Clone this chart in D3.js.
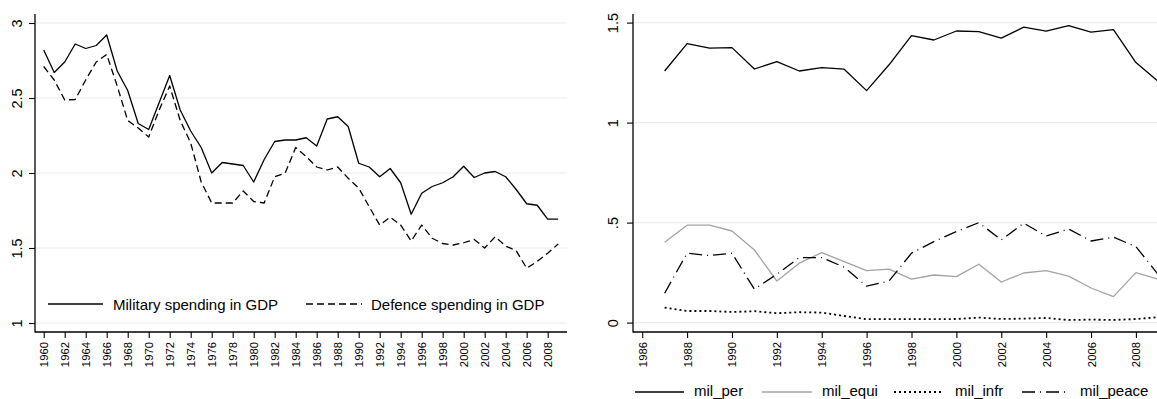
<!DOCTYPE html>
<html>
<head>
<meta charset="utf-8">
<script src="https://cdn.jsdelivr.net/npm/d3@7"></script>
<style>
  html, body { margin: 0; padding: 0; background: #fff; }
  svg { display: block; font-family: "Liberation Sans", Arial, Helvetica, sans-serif; }
</style>
</head>
<body>
<svg id="chart" width="1157" height="399"></svg>
<script>
// ---- Data: left panel (share of GDP, %) ----
const yearsA = d3.range(1960, 2010);
const militaryGDP = [
  2.82, 2.67, 2.74, 2.86, 2.83, 2.85, 2.92, 2.68, 2.55, 2.33,
  2.29, 2.47, 2.65, 2.42, 2.28, 2.17, 2.00, 2.07, 2.06, 2.05,
  1.94, 2.09, 2.21, 2.22, 2.22, 2.235, 2.18, 2.36, 2.375, 2.31,
  2.065, 2.04, 1.975, 2.03, 1.935, 1.725, 1.865, 1.91, 1.935, 1.975,
  2.045, 1.97, 2.00, 2.01, 1.975, 1.89, 1.795, 1.785, 1.693, 1.693
];
const defenceGDP = [
  2.71, 2.62, 2.487, 2.49, 2.62, 2.74, 2.79, 2.58, 2.35, 2.30,
  2.24, 2.42, 2.58, 2.35, 2.20, 1.94, 1.80, 1.80, 1.80, 1.88,
  1.81, 1.80, 1.975, 2.00, 2.17, 2.11, 2.04, 2.02, 2.04, 1.965,
  1.90, 1.775, 1.653, 1.705, 1.653, 1.547, 1.653, 1.565, 1.53, 1.52,
  1.535, 1.557, 1.50, 1.575, 1.513, 1.482, 1.365, 1.41, 1.465, 1.527
];
const yTicksA = [1, 1.5, 2, 2.5, 3];
const xTicksA = d3.range(1960, 2009, 2);
const legendA = ["Military spending in GDP", "Defence spending in GDP"];

// ---- Data: right panel (components) ----
const yearsB = d3.range(1987, 2010);
const milPer = [
  1.258, 1.395, 1.372, 1.375, 1.268, 1.305, 1.258, 1.275, 1.267, 1.16,
  1.289, 1.435, 1.413, 1.458, 1.455, 1.422, 1.477, 1.457, 1.485, 1.452,
  1.465, 1.30, 1.205
];
const milEqui = [
  0.402, 0.487, 0.487, 0.458, 0.363, 0.208, 0.297, 0.35, 0.305, 0.26,
  0.267, 0.217, 0.238, 0.23, 0.292, 0.203, 0.248, 0.26, 0.232, 0.173,
  0.13, 0.25, 0.217
];
const milInfr = [
  0.075, 0.058, 0.058, 0.053, 0.057, 0.047, 0.052, 0.05, 0.033, 0.017,
  0.017, 0.017, 0.017, 0.018, 0.025, 0.018, 0.02, 0.023, 0.013, 0.015,
  0.013, 0.018, 0.027
];
const milPeace = [
  0.147, 0.347, 0.335, 0.347, 0.167, 0.242, 0.325, 0.325, 0.277, 0.182,
  0.208, 0.347, 0.405, 0.455, 0.50, 0.413, 0.497, 0.433, 0.468, 0.408,
  0.427, 0.38, 0.24
];
const yTicksB = [0, 0.5, 1, 1.5];
const yTickLabelsB = ["0", ".5", "1", "1.5"];
const xTicksB = d3.range(1986, 2009, 2);
const legendB = ["mil_per", "mil_equi", "mil_infr", "mil_peace"];

const svg = d3.select("#chart");
const GRID = "#e6eef0";
const INK = "#000";

function panel(cfg) {
  const g = svg.append("g");
  const { x, y } = cfg;
  const [x0, x1] = x.range();
  const [yb, yt] = y.range();

  // horizontal grid lines
  g.append("g").selectAll("line").data(cfg.yTicks).join("line")
    .attr("x1", x0 + 1).attr("x2", cfg.gridEnd)
    .attr("y1", d => y(d)).attr("y2", d => y(d))
    .attr("stroke", GRID).attr("stroke-width", 1.2);

  // y axis
  const ya = g.append("g").attr("transform", `translate(${x0},0)`)
    .call(d3.axisLeft(y).tickValues(cfg.yTicks).tickSize(6).tickPadding(0)
      .tickFormat((d, i) => cfg.yFormat(d, i)));
  ya.select(".domain").remove();
  ya.selectAll(".tick line").attr("stroke", INK).attr("stroke-width", 1.1);
  ya.selectAll(".tick text")
    .attr("x", null).attr("dy", null)
    .attr("transform", `translate(${cfg.yLabelX - x0},0) rotate(-90)`)
    .attr("text-anchor", "middle")
    .attr("dominant-baseline", "central")
    .attr("font-size", 14.5).attr("fill", INK);
  g.append("line").attr("x1", x0).attr("x2", x0).attr("y1", yt).attr("y2", yb + 0.5)
    .attr("stroke", INK).attr("stroke-width", 1.3);

  // x axis
  const xa = g.append("g").attr("transform", `translate(0,${yb})`)
    .call(d3.axisBottom(x).tickValues(cfg.xTicks).tickSize(6).tickFormat(d3.format("d")));
  xa.select(".domain").remove();
  xa.selectAll(".tick line").attr("stroke", INK).attr("stroke-width", 1.1);
  xa.selectAll(".tick text")
    .attr("y", null).attr("dy", null)
    .attr("transform", "translate(0,10) rotate(-90)")
    .attr("text-anchor", "end")
    .attr("dominant-baseline", "central")
    .attr("font-size", 11.3).attr("fill", INK);
  g.append("line").attr("x1", x0).attr("x2", cfg.gridEnd).attr("y1", yb).attr("y2", yb)
    .attr("stroke", INK).attr("stroke-width", 1.3);

  // series
  cfg.series.forEach(s => {
    const line = d3.line().x((d, i) => x(cfg.years[i])).y(d => y(d));
    g.append("path").datum(s.values)
      .attr("d", line)
      .attr("fill", "none")
      .attr("stroke", s.color)
      .attr("stroke-width", s.width || 1.3)
      .attr("stroke-linejoin", "round")
      .attr("stroke-dasharray", s.dash || null);
  });

  // legend
  cfg.series.forEach((s, i) => {
    const L = cfg.legend[i];
    g.append("line").attr("x1", L.x1).attr("x2", L.x2).attr("y1", L.y).attr("y2", L.y)
      .attr("stroke", s.color).attr("stroke-width", s.width || 1.3)
      .attr("stroke-dasharray", s.dash || null);
    g.append("text").attr("x", L.tx).attr("y", L.base)
      .attr("font-size", 15).attr("fill", INK)
      .text(s.name);
  });
}

// Left panel: military vs defence spending
panel({
  x: d3.scaleLinear().domain([1959.17, 2009.84]).range([35, 567]),
  y: d3.scaleLinear().domain([0.94, 3.06]).range([332, 14]),
  gridEnd: 567,
  yTicks: yTicksA,
  yFormat: d => d3.format("")(d),
  yLabelX: 17,
  xTicks: xTicksA,
  years: yearsA,
  series: [
    { name: legendA[0], values: militaryGDP, color: INK },
    { name: legendA[1], values: defenceGDP, color: INK, dash: "7,4" }
  ],
  legend: [
    { x1: 48, x2: 103, y: 304, tx: 113, base: 310 },
    { x1: 306, x2: 362, y: 304, tx: 371, base: 310 }
  ]
});

// Right panel: components of military spending
panel({
  x: d3.scaleLinear().domain([1985.59, 2009.43]).range([633, 1168]),
  y: d3.scaleLinear().domain([-0.047, 1.543]).range([332, 14]),
  gridEnd: 1157,
  yTicks: yTicksB,
  yFormat: (d, i) => yTickLabelsB[i],
  yLabelX: 613,
  xTicks: xTicksB,
  years: yearsB,
  series: [
    { name: legendB[0], values: milPer, color: INK },
    { name: legendB[1], values: milEqui, color: "#a3a3a3" },
    { name: legendB[2], values: milInfr, color: INK, dash: "2,3", width: 1.8 },
    { name: legendB[3], values: milPeace, color: INK, dash: "13,5,1,5" }
  ],
  legend: [
    { x1: 635, x2: 684, y: 392, tx: 694, base: 396 },
    { x1: 762, x2: 812, y: 392, tx: 822, base: 396 },
    { x1: 894, x2: 943, y: 392, tx: 955, base: 396 },
    { x1: 1022, x2: 1068, y: 392, tx: 1080, base: 396 }
  ]
});
</script>
</body>
</html>
